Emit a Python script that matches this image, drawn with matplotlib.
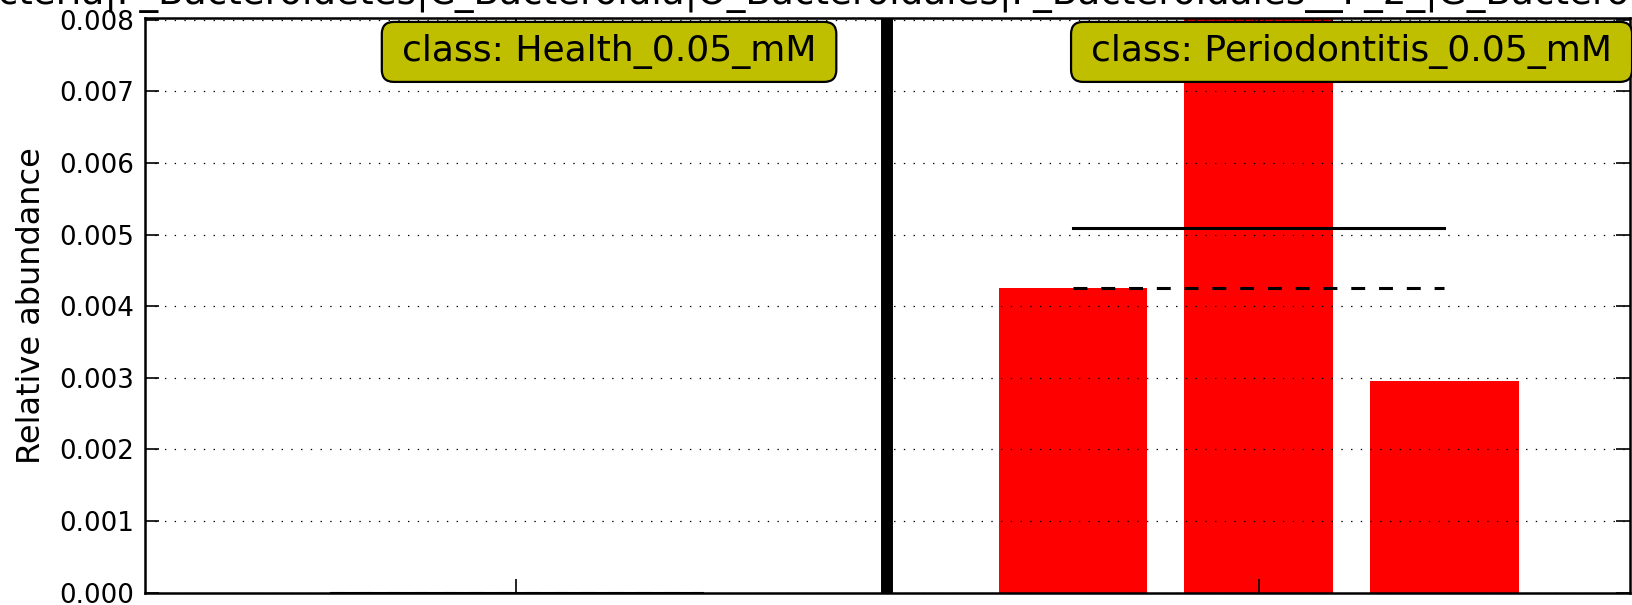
import matplotlib
matplotlib.use('Agg')
import matplotlib.pyplot as plt
from matplotlib.patches import FancyBboxPatch
import numpy as np

# ---- data ----
feature_name = "K_Bacteria|P_Bacteroidetes|C_Bacteroidia|O_Bacteroidales|F_Bacteroidales__F_2_|G_Bacteroidales__F_2_"
classes = ["Health_0.05_mM", "Periodontitis_0.05_mM"]
health_values = [0.0, 0.0, 0.0]
periodontitis_values = [0.00426, 0.00805, 0.00296]
yticks = [0.000, 0.001, 0.002, 0.003, 0.004, 0.005, 0.006, 0.007, 0.008]
ytick_labels = ["0.000", "0.001", "0.002", "0.003", "0.004", "0.005", "0.006", "0.007", "0.008"]
ymax = 0.00803
bar_color = "#ff0000"
label_color = (0.75, 0.75, 0.0)

plt.rcParams['lines.scale_dashes'] = False

W, H, DPI = 1633, 605, 100
fig = plt.figure(figsize=(W / DPI, H / DPI), dpi=DPI)
ax = fig.add_axes([145 / W, 1 - 592.6 / H, (1630 - 145) / W, (592.6 - 17.7) / H])
renderer = fig.canvas.get_renderer()

groups = [health_values, periodontitis_values]
start = 1
sep_positions = []
centers = []
for gi, vals in enumerate(groups):
    pos = start + np.arange(len(vals))
    ax.bar(pos, vals, width=0.8, color=bar_color, edgecolor='none', align='center', zorder=2)
    m = np.mean(vals)
    md = np.median(vals)
    ax.plot([pos[0], pos[-1]], [m, m], color='black', lw=2.2, ls='-', zorder=3)
    ax.plot([pos[0], pos[-1]], [md, md], color='black', lw=2.2, dashes=(10, 10), zorder=3)
    centers.append((pos[0] + pos[-1]) / 2.0)
    if gi < len(groups) - 1:
        sep_positions.append(pos[-1] + 1)
    start = pos[-1] + 2

total = start - 1
ax.set_xlim(0, total)
ax.set_ylim(0, ymax)

for sp in sep_positions:
    ax.axvline(sp, color='black', lw=8.6, zorder=4)

# class labels with custom padded rounded boxes
padx, pady = 20.0, 12.5  # pixels
for c, cl in zip(centers, classes):
    t = ax.text(c + 0.5, 0.9405, "class: " + cl, transform=ax.get_xaxis_transform(),
                ha='center', va='center', fontsize=26, zorder=7)
    bb = t.get_window_extent(renderer)
    x0, y0 = bb.x0 - padx, bb.y0 - pady
    w, h = bb.width + 2 * padx, bb.height + 2 * pady
    patch = FancyBboxPatch((x0, y0), w, h, boxstyle='round,pad=0,rounding_size=12',
                           transform=None, facecolor=label_color, edgecolor='black',
                           lw=1.6, zorder=6, clip_on=False)
    ax.add_artist(patch)

ax.set_xticks(centers)
ax.set_xticklabels(["" for _ in centers])
ax.set_yticks(yticks)
ax.set_yticklabels(ytick_labels, fontsize=18.8)
ax.tick_params(direction='in', length=10, width=1.2, top=True, right=True, pad=8)
ax.yaxis.grid(True, linestyle=(0, (1, 6)), color='black', lw=0.9)
ax.set_axisbelow(False)
for s in ax.spines.values():
    s.set_linewidth(1.8)
    s.set_zorder(5)

ax.set_ylabel("Relative abundance", fontsize=23, labelpad=9)

# title: place so that visible part matches the clipped reference title
ref_size = 10
def width_of(s):
    tt = fig.text(0, 0, s, fontsize=ref_size)
    w = tt.get_window_extent(renderer).width
    tt.remove()
    return w
a = width_of("K_Bacteria|P")
b = width_of("K_Bacteria|P_Bacteroidetes|C_Bacteroidia|O_Bacteroidales|F_Bacteroidales__F_2_|G_Bacter")
x_a, x_b = 141.0, 1617.0
scale = (x_b - x_a) / (b - a)
title_size = ref_size * scale
title_x = x_a - a * scale
fig.text(title_x / W, 1 - 4 / H, feature_name, ha='left', va='baseline', fontsize=title_size)

fig.savefig("out.png", dpi=DPI)
